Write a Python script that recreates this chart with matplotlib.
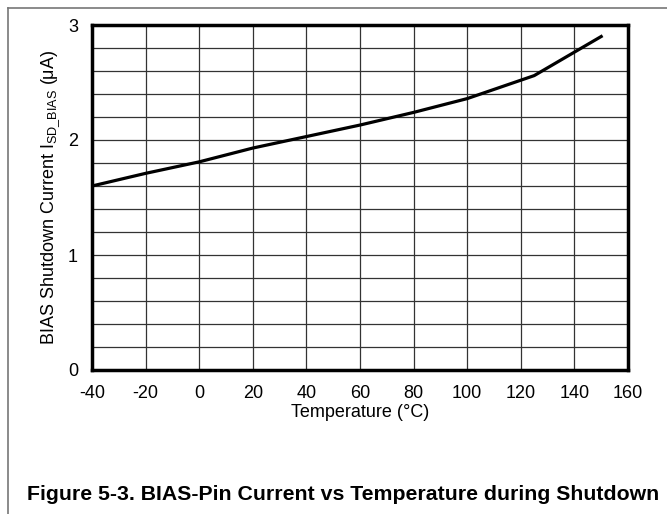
import numpy as np
import matplotlib.pyplot as plt
from matplotlib.lines import Line2D

plt.rcParams['font.family'] = ['Liberation Sans', 'DejaVu Sans']
plt.rcParams['axes.unicode_minus'] = False

# BIAS pin shutdown current vs temperature
temp_c = [-40, -20, 0, 20, 40, 60, 80, 100, 125, 150]
i_sd_bias = [1.60, 1.71, 1.81, 1.93, 2.03, 2.13, 2.24, 2.36, 2.56, 2.90]

x_ticks = np.arange(-40, 161, 20)
y_ticks = [0, 1, 2, 3]

fig = plt.figure(figsize=(6.67, 5.14), dpi=100)
ax = fig.add_axes([92 / 667, 1 - 370 / 514, 536 / 667, 345 / 514])

ax.plot(temp_c, i_sd_bias, color='black', lw=2.3, zorder=3)

ax.set_xlim(-40, 160)
ax.set_ylim(0, 3)
ax.set_xticks(x_ticks)
ax.set_yticks(y_ticks)
ax.set_yticks(np.arange(0, 3.01, 0.2), minor=True)
ax.grid(True, which='both', color='#333333', lw=0.9)
ax.tick_params(which='both', length=0, labelsize=13)
ax.tick_params(axis='x', pad=10.5)
ax.tick_params(axis='y', pad=10)

for s in ax.spines.values():
    s.set_linewidth(2.5)
    s.set_color('black')
    s.set_zorder(4)

ax.set_xlabel('Temperature (°C)', fontsize=13, labelpad=2)
ax.set_ylabel(r'BIAS Shutdown Current I$_{\mathregular{SD\_BIAS}}$ ($\mathregular{\mu}$A)',
              fontsize=13, labelpad=4)

# frame around the figure cell
fig.add_artist(Line2D([8 / 667, 8 / 667], [0, 1 - 8 / 514], transform=fig.transFigure,
                      color='#777777', lw=1.2))
fig.add_artist(Line2D([8 / 667, 1], [1 - 8 / 514, 1 - 8 / 514], transform=fig.transFigure,
                      color='#777777', lw=1.2))

fig.text(27 / 667, 1 - 495 / 514, 'Figure 5-3. BIAS-Pin Current vs Temperature during Shutdown',
         fontsize=15.3, fontweight='bold', va='center', ha='left')

fig.savefig('out.png', dpi=100)
